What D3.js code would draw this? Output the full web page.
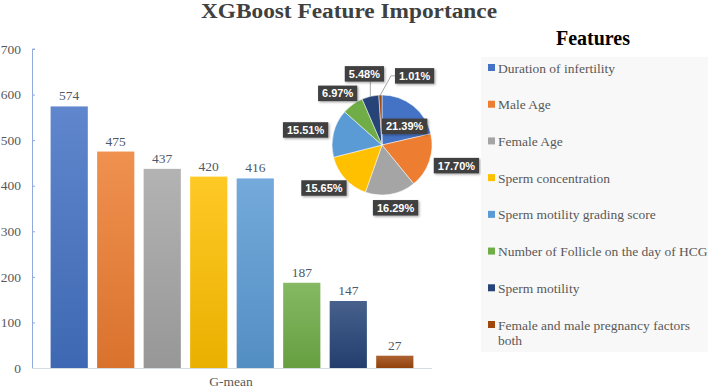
<!DOCTYPE html>
<html><head><meta charset="utf-8">
<script src="https://cdn.jsdelivr.net/npm/d3@7"></script>
<style>body{margin:0;background:#fff}svg{display:block}</style>
</head><body>
<svg id="c" width="708" height="389"></svg>
<script>
const features = ["Duration of infertility","Male Age","Female Age","Sperm concentration","Sperm motility grading score","Number of Follicle on the day of HCG","Sperm motility","Female and male pregnancy factors both"];
const importance = [574,475,437,420,416,187,147,27];
const colors = ["#4472C4","#ED7D31","#A5A5A5","#FFC000","#5B9BD5","#70AD47","#264478","#9E480E"];
const yTicks = [0,100,200,300,400,500,600,700];
const categoryLabel = "G-mean";
const title = "XGBoost Feature Importance";
const legendTitle = "Features";

const svg = d3.select("#c");
const defs = svg.append("defs");
const serif = "'Liberation Serif','Times New Roman',serif";

// title
svg.append("text").attr("x",349).attr("y",17.5).attr("text-anchor","middle")
  .attr("font-family",serif).attr("font-weight","bold").attr("font-size",20)
  .attr("fill","#404040").attr("textLength",296).attr("lengthAdjust","spacingAndGlyphs").text(title);

// scales
const y = d3.scaleLinear().domain([0,700]).range([368,49]);
const x = d3.scaleBand().domain(features).range([32,432]).paddingInner(0.2).paddingOuter(0.4);

// gradients
colors.forEach((c,i)=>{
  const g = defs.append("linearGradient").attr("id","g"+i).attr("x1",0).attr("y1",0).attr("x2",0).attr("y2",1);
  g.append("stop").attr("offset","0%").attr("stop-color", d3.interpolateRgb(c,"#ffffff")(0.15));
  g.append("stop").attr("offset","100%").attr("stop-color", d3.color(c).darker(0.25).formatHex());
});

// y axis
const yAxis = svg.append("g").attr("transform","translate(32,0)")
  .call(d3.axisRight(y).tickValues(yTicks).tickSize(3).tickFormat(""));
yAxis.select(".domain").attr("stroke","#8faadc").attr("d","M3,49H0.5V368");
yAxis.selectAll(".tick line").attr("stroke","#8faadc");
svg.append("g").selectAll("text").data(yTicks).join("text")
  .attr("x",21).attr("y",d=>y(d)).attr("dy","0.35em").attr("text-anchor","end")
  .attr("font-family",serif).attr("font-size",13.5).attr("fill","#595959").text(d=>d);

// bars
svg.append("g").selectAll("rect").data(importance).join("rect")
  .attr("x",(d,i)=>x(features[i])).attr("width",x.bandwidth())
  .attr("y",d=>y(d)).attr("height",d=>y(0)-y(d))
  .attr("fill",(d,i)=>`url(#g${i})`);
// x axis line
svg.append("line").attr("x1",32).attr("x2",432).attr("y1",y(0)+0.5).attr("y2",y(0)+0.5)
  .attr("stroke","#d6dce5").attr("stroke-width",1);
// value labels
svg.append("g").selectAll("text").data(importance).join("text")
  .attr("x",(d,i)=>x(features[i])+x.bandwidth()/2).attr("y",d=>y(d)-6)
  .attr("text-anchor","middle").attr("font-family",serif).attr("font-size",13.5)
  .attr("fill","#4f5868").text(d=>d);
svg.append("text").attr("x",231).attr("y",386).attr("text-anchor","middle")
  .attr("font-family",serif).attr("font-size",13.5).attr("fill","#595959").text(categoryLabel);

// pie
const cx=382, cy=145, R=50;
const total = d3.sum(importance);
const arcs = d3.pie().sort(null).value(d=>d)(importance);
const arc = d3.arc().innerRadius(0).outerRadius(R);
const pg = svg.append("g").attr("transform",`translate(${cx},${cy})`);
pg.selectAll("path").data(arcs).join("path").attr("d",arc)
  .attr("fill",(d,i)=>colors[i]).attr("stroke","#fff").attr("stroke-width",0.5);

const flt = defs.append("filter").attr("id","sh").attr("x","-20%").attr("y","-30%").attr("width","150%").attr("height","180%");
flt.append("feDropShadow").attr("dx",1.2).attr("dy",1.2).attr("stdDeviation",0.8).attr("flood-color","#000").attr("flood-opacity",0.35);

const lineG = svg.append("g");
const lg = svg.append("g");
const boxes=[];
const overlaps=(a,b)=>a.x < b.x+b.w && a.x+a.w > b.x && a.y < b.y+b.h && a.y+a.h > b.y;
arcs.forEach((a,i)=>{
  const pct = (a.value/total*100).toFixed(2)+"%";
  const mid = (a.startAngle+a.endAngle)/2;
  const dx = Math.sin(mid), dy = -Math.cos(mid);
  const t = lg.append("text").attr("font-family","'Liberation Sans',Arial,sans-serif")
    .attr("font-weight","bold").attr("font-size",11).attr("fill","#fff").text(pct);
  const w = t.node().getComputedTextLength()+8, h=15.5;
  let b;
  if(i===0){
    // inside end label for the largest slice
    const px = cx + dx*R*0.58, py = cy + dy*R*0.58 + 4;
    b = {x:Math.max(px-w/2, cx), y:py-h/2, w:w, h:h};
  } else {
    const ax = cx + dx*(R+6), ay = cy + dy*(R+6);
    b = {x: ax - w*(1-dx)/2, y: ay - h*(1-dy)/2, w:w, h:h};
    boxes.forEach(o=>{
      if(overlaps(b,o)){
        const upCost = (b.y - (o.y - h - 4))*1.5;
        const rightCost = (o.x + o.w + 11) - b.x;
        if(upCost < rightCost) b.y = o.y - h - 4;
        else { b.x = o.x + o.w + 11; b.y = o.y + 2; }
      }
    });
  }
  boxes.push(b);
  lg.insert("rect","text:last-child").attr("x",b.x).attr("y",b.y).attr("width",w).attr("height",h)
    .attr("fill","#404040").attr("filter","url(#sh)");
  t.attr("x",b.x+w/2).attr("y",b.y+h/2).attr("dy","0.36em").attr("text-anchor","middle");
  if(a.value/total < 0.06){
    const ax = cx + dx*R, ay = cy + dy*R;
    let pts;
    if(ax>=b.x && ax<=b.x+w) pts=[[ax,ay],[ax,b.y+h]];
    else pts=[[ax,ay],[b.x-4,b.y+h/2],[b.x,b.y+h/2]];
    lineG.append("path").attr("d",d3.line()(pts)).attr("fill","none").attr("stroke","#a6a6a6").attr("stroke-width",1);
  }
});

// legend
svg.append("rect").attr("x",481).attr("y",57).attr("width",227).attr("height",295).attr("fill","#f8f8f8");
svg.append("text").attr("x",593).attr("y",45).attr("text-anchor","middle").attr("font-family",serif)
  .attr("font-weight","bold").attr("font-size",20).attr("fill","#000").text(legendTitle);
const ly = d3.scalePoint().domain(features).range([72.5,329.5]);
const li = svg.append("g").selectAll("g").data(features).join("g").attr("transform",d=>`translate(0,${ly(d)})`);
li.append("rect").attr("x",488).attr("y",-8.5).attr("width",7).attr("height",7).attr("fill",(d,i)=>colors[i]);
li.append("text").attr("x",498).attr("font-family",serif).attr("font-size",13.5).attr("fill","#595959")
  .each(function(d){
    const el=d3.select(this);
    if(d.length>36){
      const words=d.split(" "); const last=words.pop();
      el.append("tspan").attr("x",498).attr("y",0).text(words.join(" "));
      el.append("tspan").attr("x",498).attr("y",15).text(last);
    } else el.text(d);
  });
</script>
</body></html>
